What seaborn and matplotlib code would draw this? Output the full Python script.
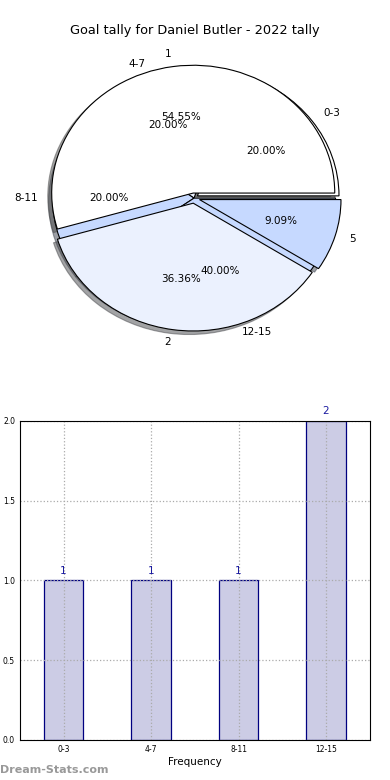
import matplotlib
matplotlib.use("Agg")
import matplotlib.pyplot as plt
import pandas as pd
import seaborn as sns

sns.set_style("white")
plt.rcParams["font.family"] = ["DejaVu Sans"]
plt.rcParams["text.color"] = "black"
plt.rcParams["axes.labelcolor"] = "black"
plt.rcParams["xtick.color"] = "black"
plt.rcParams["ytick.color"] = "black"

# data
bins = ["0-3", "4-7", "8-11", "12-15"]
bin_counts = [1, 1, 1, 2]
goal_labels = ["1", "2", "5"]
goal_counts = [6, 4, 1]
title = "Goal tally for Daniel Butler - 2022 tally"

fig = plt.figure(figsize=(3.9, 7.8), dpi=100)

# pie panel: two pies drawn on the same axes
ax1 = fig.add_axes([0.033, 0.533, 0.929, 0.426])
ax1.pie(bin_counts, labels=bins, autopct="%.2f%%", startangle=0,
        colors=["white", "#EBF1FE", "#C6D9FF", "#C6D9FF"],
        explode=[0.03, 0, 0, 0], shadow=True,
        wedgeprops={"edgecolor": "black", "linewidth": 0.8},
        textprops={"fontsize": 7.5, "color": "black"})
ax1.pie(goal_counts, labels=goal_labels, autopct="%.2f%%", startangle=0,
        colors=["white", "#EBF1FE", "#C6D9FF"],
        explode=[0.04, 0.04, 0.04], shadow=True,
        wedgeprops={"edgecolor": "black", "linewidth": 0.8},
        textprops={"fontsize": 7.5, "color": "black"})
ax1.set_aspect("auto")
ax1.set_xlim(-1.28, 1.28)
ax1.set_ylim(-1.3, 1.3)
fig.text(0.5, 0.961, title, ha="center", va="center", fontsize=9.3)

# bar panel
ax2 = fig.add_axes([0.051, 0.0513, 0.897, 0.409])
df = pd.DataFrame({"bin": bins, "count": bin_counts})
sns.barplot(data=df, x="bin", y="count", ax=ax2, width=0.45,
            color="#CCCCE5", saturation=1, edgecolor="navy", linewidth=0.9)
ax2.set_xlim(-0.5, 3.5)
ax2.set_ylim(0, 2.0)
ax2.set_yticks([0.0, 0.5, 1.0, 1.5, 2.0])
ax2.set_yticklabels(["0.0", "0.5", "1.0", "1.5", "2.0"])
ax2.tick_params(labelsize=5.5, direction="in", length=3)
ax2.grid(True, linestyle=":", color="#AAAAAA", linewidth=0.9)
ax2.set_axisbelow(False)
for p in ax2.patches:
    p.set_zorder(1)
for s in ax2.spines.values():
    s.set_linewidth(0.8)
    s.set_color("black")
    s.set_zorder(3)
ax2.set_xlabel("Frequency", fontsize=7.5, labelpad=2)
ax2.set_ylabel("")
for i, v in enumerate(bin_counts):
    ax2.text(i, v + 0.03, str(v), ha="center", va="bottom",
             color="#1A1AA0", fontsize=7.5)

fig.text(0.0, 0.013, "Dream-Stats.com", fontsize=8, color="#999999",
         fontweight="bold", ha="left", va="center")

fig.savefig("out.png", dpi=100)
